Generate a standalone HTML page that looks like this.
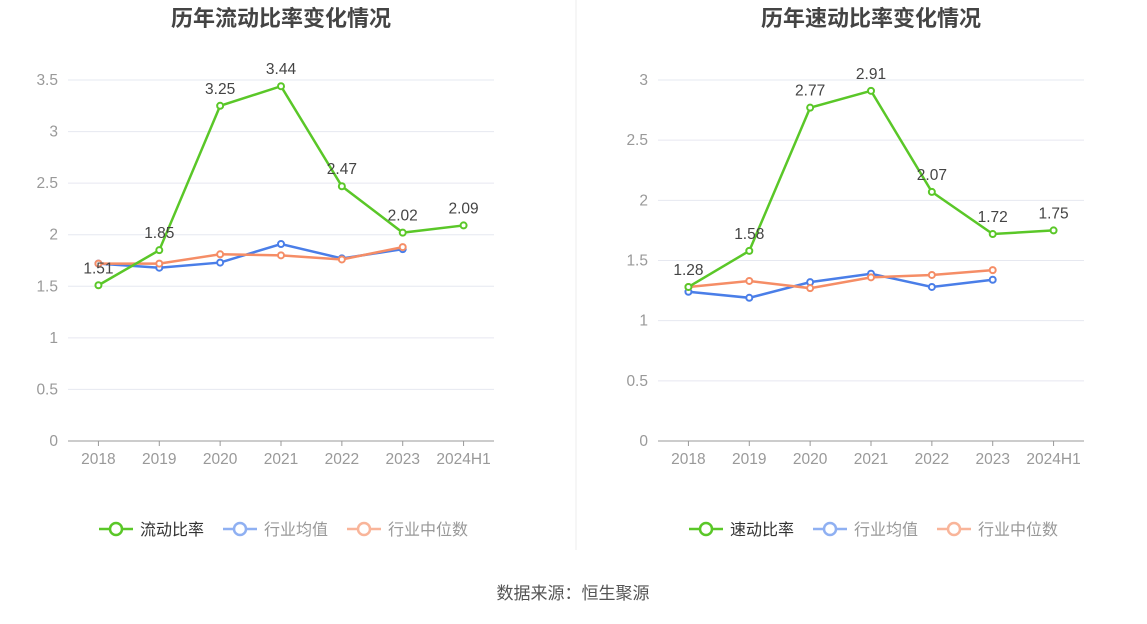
<!DOCTYPE html>
<html><head><meta charset="utf-8"><style>
body{margin:0;background:#fff;width:1147px;height:619px;overflow:hidden;font-family:"Liberation Sans","Noto Sans CJK SC",sans-serif}
</style></head><body>
<svg id="s" width="1147" height="619" xmlns="http://www.w3.org/2000/svg">
<line x1="576" y1="0" x2="576" y2="550" stroke="#eeeeee"/>
<text x="573" y="599" text-anchor="middle" font-size="17" fill="#555">数据来源：恒生聚源</text>
</svg>
<script>
const categories=["2018","2019","2020","2021","2022","2023","2024H1"];
const leftMain=[1.51,1.85,3.25,3.44,2.47,2.02,2.09];
const leftAvg=[1.72,1.68,1.73,1.91,1.77,1.86];
const leftMed=[1.72,1.72,1.81,1.80,1.76,1.88];
const leftTicks=[0,0.5,1,1.5,2,2.5,3,3.5];
const rightMain=[1.28,1.58,2.77,2.91,2.07,1.72,1.75];
const rightAvg=[1.24,1.19,1.32,1.39,1.28,1.34];
const rightMed=[1.28,1.33,1.27,1.36,1.38,1.42];
const rightTicks=[0,0.5,1,1.5,2,2.5,3];
const NS="http://www.w3.org/2000/svg";
const svg=document.getElementById('s');
function mk(t,a,p){const e=document.createElementNS(NS,t);for(const k in a)e.setAttribute(k,a[k]);(p||svg).appendChild(e);return e;}
function chart(o){
 const g=mk('g',{});
 
 
 const x0=o.x0,x1=o.x0+426,y0=441,y1=80,max=o.ticks[o.ticks.length-1];
 const Y=v=>y0-(v/max)*(y0-y1);
 const step=(x1-x0)/categories.length;
 const X=i=>x0+step*(i+0.5);
 const t=mk('text',{x:x0+213,y:26,'text-anchor':'middle','font-size':22,'font-weight':'bold',fill:'#444'},g);t.textContent=o.title;
 
 
 o.ticks.forEach(v=>{
  if(v>0){const l=mk('line',{x1:x0,x2:x1,y1:Y(v),y2:Y(v),stroke:'#e6e8f0'},g);
  
  }
  const tt=mk('text',{x:x0-10,y:Y(v)+5,'text-anchor':'end','font-size':15.5,fill:'#999'},g);tt.textContent=v;
  
  
 });
 const ax=mk('line',{x1:x0,x2:x1,y1:y0,y2:y0,stroke:'#999'},g);
 
 
 categories.forEach((c,i)=>{
  mk('line',{x1:X(i),x2:X(i),y1:y0,y2:y0+5,stroke:'#999'},g);
  const tt=mk('text',{x:X(i),y:y0+23,'text-anchor':'middle','font-size':15.5,fill:'#999'},g);tt.textContent=c;
  
  
 });
 function series(d,col,nm,lab){
  const p=mk('polyline',{points:d.map((v,i)=>X(i)+','+Y(v)).join(' '),fill:'none',stroke:col,'stroke-width':2.5},g);
  
  
  d.forEach((v,i)=>{
   const c=mk('circle',{cx:X(i),cy:Y(v),r:3,fill:'#fff',stroke:col,'stroke-width':2},g);
   
   
   if(lab){const tt=mk('text',{x:X(i),y:Y(v)-12,'text-anchor':'middle','font-size':15.5,fill:'#444'},g);tt.textContent=v.toFixed(2);
   
   }
  });
 }
 series(o.avg,'#4a7ee8','industry-avg',false);
 series(o.med,'#f58d66','industry-median',false);
 series(o.main,'#5ac728','main',true);
 const lg=[[o.mainName,'#5ac728','#333'],['行业均值','#8fb0f2','#999'],['行业中位数','#f9b59a','#999']];
 let lx=o.x0+31;
 lg.forEach(([n,c,tc])=>{
  const e=mk('g',{},g);
  
  
  mk('line',{x1:lx,x2:lx+34,y1:529,y2:529,stroke:c,'stroke-width':2.5},e);
  mk('circle',{cx:lx+17,cy:529,r:6,fill:'#fff',stroke:c,'stroke-width':2.5},e);
  const tt=mk('text',{x:lx+41,y:535,'font-size':16,fill:tc},e);tt.textContent=n;
  lx+=41+n.length*16+19;
 });
}
chart({name:'current-ratio-chart',x0:68,title:'历年流动比率变化情况',ticks:leftTicks,main:leftMain,avg:leftAvg,med:leftMed,mainName:'流动比率'});
chart({name:'quick-ratio-chart',x0:658,title:'历年速动比率变化情况',ticks:rightTicks,main:rightMain,avg:rightAvg,med:rightMed,mainName:'速动比率'});
</script>
</body></html>
